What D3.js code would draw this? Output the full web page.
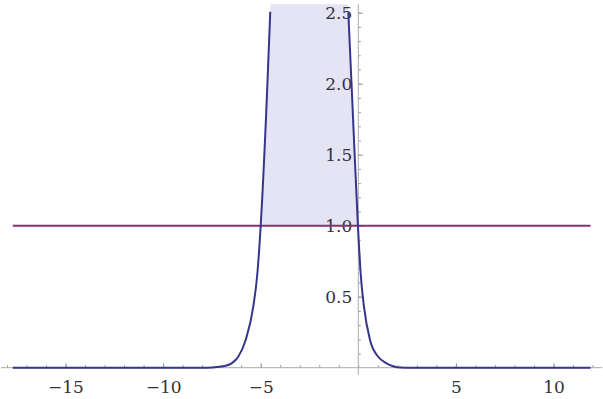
<!DOCTYPE html>
<html>
    <head>
        <meta charset="UTF-8">
        <title>curve over 1</title>
        <style>
            body {margin:0; background:#fff;}
            svg {display:block;}
            .tick text {font-family:"DejaVu Serif", serif; font-size:17px; fill:#333;}
            .tick line {stroke:#999; stroke-width:1px;}
            .axisline {stroke:#aaa; stroke-width:1px;}
        </style>
        <script src="https://cdn.jsdelivr.net/npm/d3@7"></script>
    </head>
    <body>
        <svg width="603" height="399"></svg>
        <script>
            // values
            var leftX  = [-17.7, -12, -9, -8, -7.5, -7.1, -6.8, -6.49, -6.15, -5.77, -5.38, -5.17, -5.0, -4.69, -4.51];
            var leftY  = [0, 0, 0, 0.0005, 0.002, 0.006, 0.014, 0.031, 0.077, 0.195, 0.43, 0.665, 1.0, 1.885, 2.507];
            var rightX = [-0.51, -0.31, -0.02, 0.12, 0.29, 0.6, 1.02, 1.45, 1.75, 1.97, 2.4, 3, 6, 11.9];
            var rightY = [2.5, 1.885, 1.0, 0.665, 0.43, 0.195, 0.077, 0.031, 0.012, 0.004, 0.0005, 0, 0, 0];
            var level = 1;
            var xRange = [-17.7, 11.9];
            var xMajor = [-15, -10, -5, 5, 10];
            var yMajor = [0.5, 1.0, 1.5, 2.0, 2.5];
            var yTop = 2.56;

            var svg = d3.select("svg");
            var x = d3.scaleLinear().domain([0, 5]).range([358.3, 455.9]);
            var y = d3.scaleLinear().domain([0, 2.5]).range([367.7, 12.7]);

            var left = leftX.map((v, i) => ({x: v, y: leftY[i]}));
            var right = rightX.map((v, i) => ({x: v, y: rightY[i]}));

            //... shaded part where curve > 1
            var upL = left.filter(d => d.y >= level),
                upR = right.filter(d => d.y >= level);
            var fillPts = upL.concat(
                [{x: upL[upL.length-1].x + 0.02, y: yTop}, {x: upR[0].x - 0.02, y: yTop}],
                upR);
            svg.append("path")
                .datum(fillPts)
                .attr("fill", "#e4e4f4")
                .attr("d", d3.area().x(d => x(d.x)).y0(y(level)).y1(d => y(Math.min(d.y, yTop))));

            //... axes
            var xa = svg.append("g").attr("transform", "translate(0," + y(0) + ")");
            xa.call(d3.axisBottom(x).tickValues(d3.range(-18, 13)).tickSize(-2.5).tickFormat(""));
            xa.call(g => g.select(".domain").remove());
            var xb = svg.append("g").attr("transform", "translate(0," + y(0) + ")");
            xb.call(d3.axisBottom(x).tickValues(xMajor).tickSize(-4.5).tickPadding(13).tickFormat(d3.format("d")));
            xb.call(g => g.select(".domain").remove());

            var ya = svg.append("g").attr("transform", "translate(" + x(0) + ",0)");
            ya.call(d3.axisLeft(y).tickValues(d3.range(1, 26).map(i => i / 10)).tickSize(-2.5).tickFormat(""));
            ya.call(g => g.select(".domain").remove());
            var yb = svg.append("g").attr("transform", "translate(" + x(0) + ",0)");
            yb.call(d3.axisLeft(y).tickValues(yMajor).tickSize(-4.5).tickPadding(6).tickFormat(d3.format(".1f")));
            yb.call(g => g.select(".domain").remove());

            svg.append("line").attr("class", "axisline")
                .attr("x1", x(-18.3)).attr("x2", x(12.5))
                .attr("y1", y(0)).attr("y2", y(0));
            svg.append("line").attr("class", "axisline")
                .attr("x1", x(0)).attr("x2", x(0))
                .attr("y1", y(yTop)).attr("y2", y(-0.05));

            //... horizontal level line
            svg.append("line")
                .attr("x1", x(xRange[0])).attr("x2", x(xRange[1]))
                .attr("y1", y(level)).attr("y2", y(level))
                .attr("stroke", "#85346a").attr("stroke-width", 2);

            //... the curve, two visible pieces
            var line = d3.line().x(d => x(d.x)).y(d => y(d.y)).curve(d3.curveMonotoneX);
            [left, right].forEach(function(part)
            {
                svg.append("path")
                    .datum(part)
                    .attr("fill", "none")
                    .attr("stroke", "#35358e")
                    .attr("stroke-width", 2)
                    .attr("d", line);
            });
        </script>
    </body>
</html>
